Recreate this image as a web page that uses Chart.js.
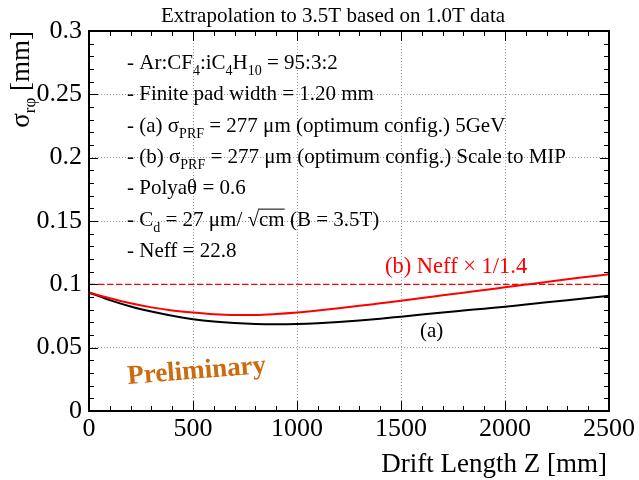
<!DOCTYPE html>
<html>
<head>
<meta charset="utf-8">
<title>Extrapolation to 3.5T</title>
<script src="https://cdn.jsdelivr.net/npm/chart.js"></script>
<style>
  body { margin: 0; background: #fff; }
  canvas { display: block; }
</style>
</head>
<body>
<canvas id="c" width="639" height="480"></canvas>
<script>
// data
var driftZ = [0, 100, 200, 300, 400, 500, 600, 700, 800, 900, 1000, 1100, 1200,
  1300, 1400, 1500, 1600, 1700, 1800, 1900, 2000, 2100, 2200, 2300, 2400, 2500];
var sigmaA = [0.0935, 0.0875, 0.0825, 0.0785, 0.0752, 0.0725, 0.0706, 0.0694, 0.0687,
  0.0685, 0.0687, 0.0693, 0.0702, 0.0714, 0.0728, 0.0745, 0.0762, 0.0778, 0.0793,
  0.0808, 0.0823, 0.0841, 0.0858, 0.0875, 0.0892, 0.0910];
var sigmaB = [0.0935, 0.0890, 0.0850, 0.0818, 0.0794, 0.0777, 0.0764, 0.0758, 0.0758,
  0.0765, 0.0777, 0.0793, 0.0811, 0.0830, 0.0850, 0.0870, 0.0892, 0.0913, 0.0934,
  0.0955, 0.0977, 0.0998, 0.1019, 0.1040, 0.1060, 0.1080];
var refZ = [0, 2450];
var refSigma = [0.1, 0.1];
var xTicks = [0, 500, 1000, 1500, 2000, 2500];
var yTicks = [0, 0.05, 0.1, 0.15, 0.2, 0.25, 0.3];

var SERIF = "'Liberation Serif', 'DejaVu Serif', serif";

function pts(xs, ys) {
  var out = [];
  for (var i = 0; i < xs.length; i++) out.push({ x: xs[i], y: ys[i] });
  return out;
}

// draws text made of parts: {t, sub, sqrt}
function richWidth(ctx, parts, size, subSize) {
  var w = 0;
  parts.forEach(function (p) {
    ctx.font = (p.sub ? subSize : size) + 'px ' + SERIF;
    w += ctx.measureText((p.sqrt ? '\u221A' : '') + p.t).width;
  });
  return w;
}
function drawRich(ctx, x, y, parts, size, subSize, subDrop) {
  ctx.textAlign = 'left';
  ctx.textBaseline = 'alphabetic';
  parts.forEach(function (p) {
    if (p.sub) {
      ctx.font = subSize + 'px ' + SERIF;
      ctx.fillText(p.t, x, y + subDrop);
      x += ctx.measureText(p.t).width;
    } else if (p.sqrt) {
      ctx.font = size + 'px ' + SERIF;
      ctx.fillText('\u221A', x, y);
      x += ctx.measureText('\u221A').width;
      var tw = ctx.measureText(p.t).width;
      ctx.fillText(p.t, x, y);
      ctx.save();
      ctx.lineWidth = 1;
      ctx.strokeStyle = ctx.fillStyle;
      ctx.beginPath();
      ctx.moveTo(x - 1, y - size * 0.78);
      ctx.lineTo(x + tw, y - size * 0.78);
      ctx.stroke();
      ctx.restore();
      x += tw;
    } else {
      ctx.font = size + 'px ' + SERIF;
      ctx.fillText(p.t, x, y);
      x += ctx.measureText(p.t).width;
    }
  });
}

var infoLines = [
  [{ t: '- Ar:CF' }, { t: '4', sub: true }, { t: ':iC' }, { t: '4', sub: true }, { t: 'H' }, { t: '10', sub: true }, { t: ' = 95:3:2' }],
  [{ t: '- Finite pad width = 1.20 mm' }],
  [{ t: '- (a) \u03C3' }, { t: 'PRF', sub: true }, { t: ' = 277 \u03BCm (optimum config.) 5GeV' }],
  [{ t: '- (b) \u03C3' }, { t: 'PRF', sub: true }, { t: ' = 277 \u03BCm (optimum config.) Scale to MIP' }],
  [{ t: '- Polya\u03B8 = 0.6' }],
  [{ t: '- C' }, { t: 'd', sub: true }, { t: ' = 27 \u03BCm/ ' }, { t: 'cm', sqrt: true }, { t: ' (B = 3.5T)' }],
  [{ t: '- Neff = 22.8' }]
];

var decorPlugin = {
  id: 'decor',
  afterDraw: function (chart) {
    var ctx = chart.ctx;
    var a = chart.chartArea;
    var xs = chart.scales.x, ys = chart.scales.y;
    ctx.save();

    // frame
    ctx.strokeStyle = '#000';
    ctx.lineWidth = 2;
    ctx.strokeRect(a.left, a.top, a.right - a.left, a.bottom - a.top);

    // inward ticks on all four sides
    ctx.lineWidth = 1;
    ctx.beginPath();
    for (var v = 0; v <= 2500; v += 100) {
      var px = Math.round(xs.getPixelForValue(v)) + 0.5;
      var len = v % 500 === 0 ? 10 : 5;
      ctx.moveTo(px, a.bottom); ctx.lineTo(px, a.bottom - len);
      ctx.moveTo(px, a.top); ctx.lineTo(px, a.top + len);
    }
    for (var k = 0; k <= 30; k++) {
      var py = Math.round(ys.getPixelForValue(k / 100)) + 0.5;
      var l2 = k % 5 === 0 ? 9 : 5;
      ctx.moveTo(a.left, py); ctx.lineTo(a.left + l2, py);
      ctx.moveTo(a.right, py); ctx.lineTo(a.right - l2, py);
    }
    ctx.stroke();

    // title
    ctx.fillStyle = '#000';
    ctx.font = '21px ' + SERIF;
    ctx.textAlign = 'center';
    ctx.textBaseline = 'alphabetic';
    ctx.fillText('Extrapolation to 3.5T based on 1.0T data', 333, 22);

    // x axis title
    ctx.font = '27px ' + SERIF;
    ctx.textAlign = 'right';
    ctx.fillText('Drift Length Z [mm]', a.right - 2, 472);

    // y axis title (rotated)
    var yParts = [{ t: '\u03C3' }, { t: 'r\u03C6', sub: true }, { t: ' [mm]' }];
    ctx.save();
    ctx.translate(29, a.top);
    ctx.rotate(-Math.PI / 2);
    var yw = richWidth(ctx, yParts, 27, 17);
    drawRich(ctx, -yw, 0, yParts, 27, 17, 6);
    ctx.restore();

    // info block
    for (var i = 0; i < infoLines.length; i++) {
      drawRich(ctx, 127, 69 + i * 31.3, infoLines[i], 21, 14, 6);
    }

    // curve labels
    ctx.fillStyle = '#ff0000';
    ctx.font = '22.5px ' + SERIF;
    ctx.textAlign = 'left';
    ctx.fillText('(b) Neff \u00D7 1/1.4', 385, 273);
    ctx.fillStyle = '#000';
    ctx.font = '21px ' + SERIF;
    ctx.fillText('(a)', 420, 337);

    // Preliminary stamp
    ctx.save();
    ctx.translate(128, 384);
    ctx.rotate(-4.6 * Math.PI / 180);
    ctx.fillStyle = '#cc6a10';
    ctx.font = 'bold 27px ' + SERIF;
    ctx.fillText('Preliminary', 0, 0);
    ctx.restore();

    ctx.restore();
  }
};

new Chart(document.getElementById('c'), {
  type: 'line',
  data: {
    datasets: [
      { data: pts(refZ, refSigma), borderColor: '#ff0000', borderWidth: 1.2, borderDash: [6, 3], pointRadius: 0 },
      { data: pts(driftZ, sigmaB), borderColor: '#ff0000', borderWidth: 2, pointRadius: 0, cubicInterpolationMode: 'monotone' },
      { data: pts(driftZ, sigmaA), borderColor: '#000000', borderWidth: 2, pointRadius: 0, cubicInterpolationMode: 'monotone' }
    ]
  },
  options: {
    responsive: false,
    animation: false,
    devicePixelRatio: 1,
    layout: { padding: { top: 31, right: 30, left: 0, bottom: 0 } },
    plugins: { legend: { display: false }, tooltip: { enabled: false } },
    scales: {
      x: {
        type: 'linear', min: 0, max: 2500,
        afterFit: function (s) { s.height = 69; s.paddingLeft = 0; s.paddingRight = 0; },
        afterBuildTicks: function (s) { s.ticks = xTicks.map(function (v) { return { value: v }; }); },
        ticks: {
          color: '#000', font: { family: SERIF, size: 26 }, padding: 3, maxRotation: 0,
          callback: function (v) { return String(v); }
        },
        grid: { color: '#9a9a9a', lineWidth: 1, drawTicks: false },
        border: { display: false, dash: [1, 2] }
      },
      y: {
        min: 0, max: 0.3,
        afterFit: function (s) { s.width = 89; s.paddingTop = 0; s.paddingBottom = 0; },
        afterBuildTicks: function (s) { s.ticks = yTicks.map(function (v) { return { value: v }; }); },
        ticks: {
          color: '#000', font: { family: SERIF, size: 26 }, padding: 7,
          callback: function (v) { return String(Math.round(v * 100) / 100); }
        },
        grid: { color: '#9a9a9a', lineWidth: 1, drawTicks: false },
        border: { display: false, dash: [1, 2] }
      }
    }
  },
  plugins: [decorPlugin]
});
</script>
</body>
</html>
